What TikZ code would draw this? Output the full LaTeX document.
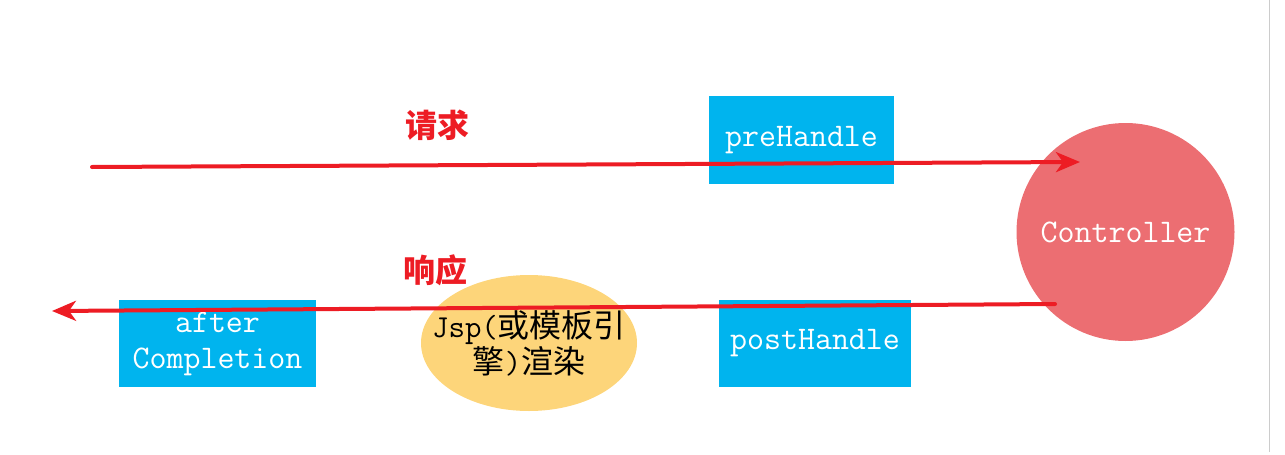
\documentclass[tikz,border=0pt]{standalone}
\usepackage{fontspec}
\newfontfamily\cjk{Noto Sans CJK SC}
\usetikzlibrary{arrows.meta,shapes.geometric}
\definecolor{boxblue}{RGB}{0,180,238}
\definecolor{ctrlred}{RGB}{236,110,114}
\definecolor{jspyellow}{RGB}{253,213,122}
\definecolor{arrowred}{RGB}{237,28,36}

\begin{document}
\begin{tikzpicture}[x=1pt,y=-1pt,>={Stealth[length=24pt,width=20pt,inset=7pt]}]
		\useasboundingbox (0,0) rectangle (1285,455);
		\tikzstyle{handler} = [rectangle,fill=boxblue,text=white,font=\fontsize{33}{36}\selectfont\ttfamily,inner sep=0pt,align=center];
		\tikzstyle{flow} = [->,arrowred,line width=4pt,line cap=round];
		\tikzstyle{flowlabel} = [text=arrowred,font=\fontsize{32}{36}\selectfont\cjk\bfseries];
		\node[handler,minimum width=185pt,minimum height=88pt] (pre) at (801.5,140) {preHandle};
		\node[handler,minimum width=192pt,minimum height=87pt] (post) at (815,343.5) {postHandle};
		\node[handler,minimum width=197pt,minimum height=87pt] (after) at (217.5,343.5) {after\\Completion};
		\node[ellipse,fill=jspyellow,minimum width=216pt,minimum height=136pt,inner xsep=-30pt,inner ysep=0pt,align=center,
			font=\fontsize{32}{36}\selectfont] (jsp) at (529,343) {{\ttfamily Jsp(}{\cjk 或模板引}\\{\cjk 擎}{\ttfamily )}{\cjk 渲染}};
		\node[circle,fill=ctrlred,minimum width=218pt,inner sep=0pt,text=white,
			font=\fontsize{33}{36}\selectfont\ttfamily] (ctrl) at (1125.5,232) {Controller};
		\node[flowlabel] (req) at (437,125) {请求};
		\node[flowlabel] (resp) at (435,270) {响应};
		\coordinate (reqstart) at (92,167);
		\coordinate (reqend) at (1080,162);
		\coordinate (respstart) at (1055,304);
		\coordinate (respend) at (52,311);
		\draw[flow] (reqstart) -- (reqend);
		\draw[flow] (respstart) -- (respend);
		\draw[black!20,line width=1pt] (1269,0) -- (1269,452);
	\end{tikzpicture}
\end{document}
